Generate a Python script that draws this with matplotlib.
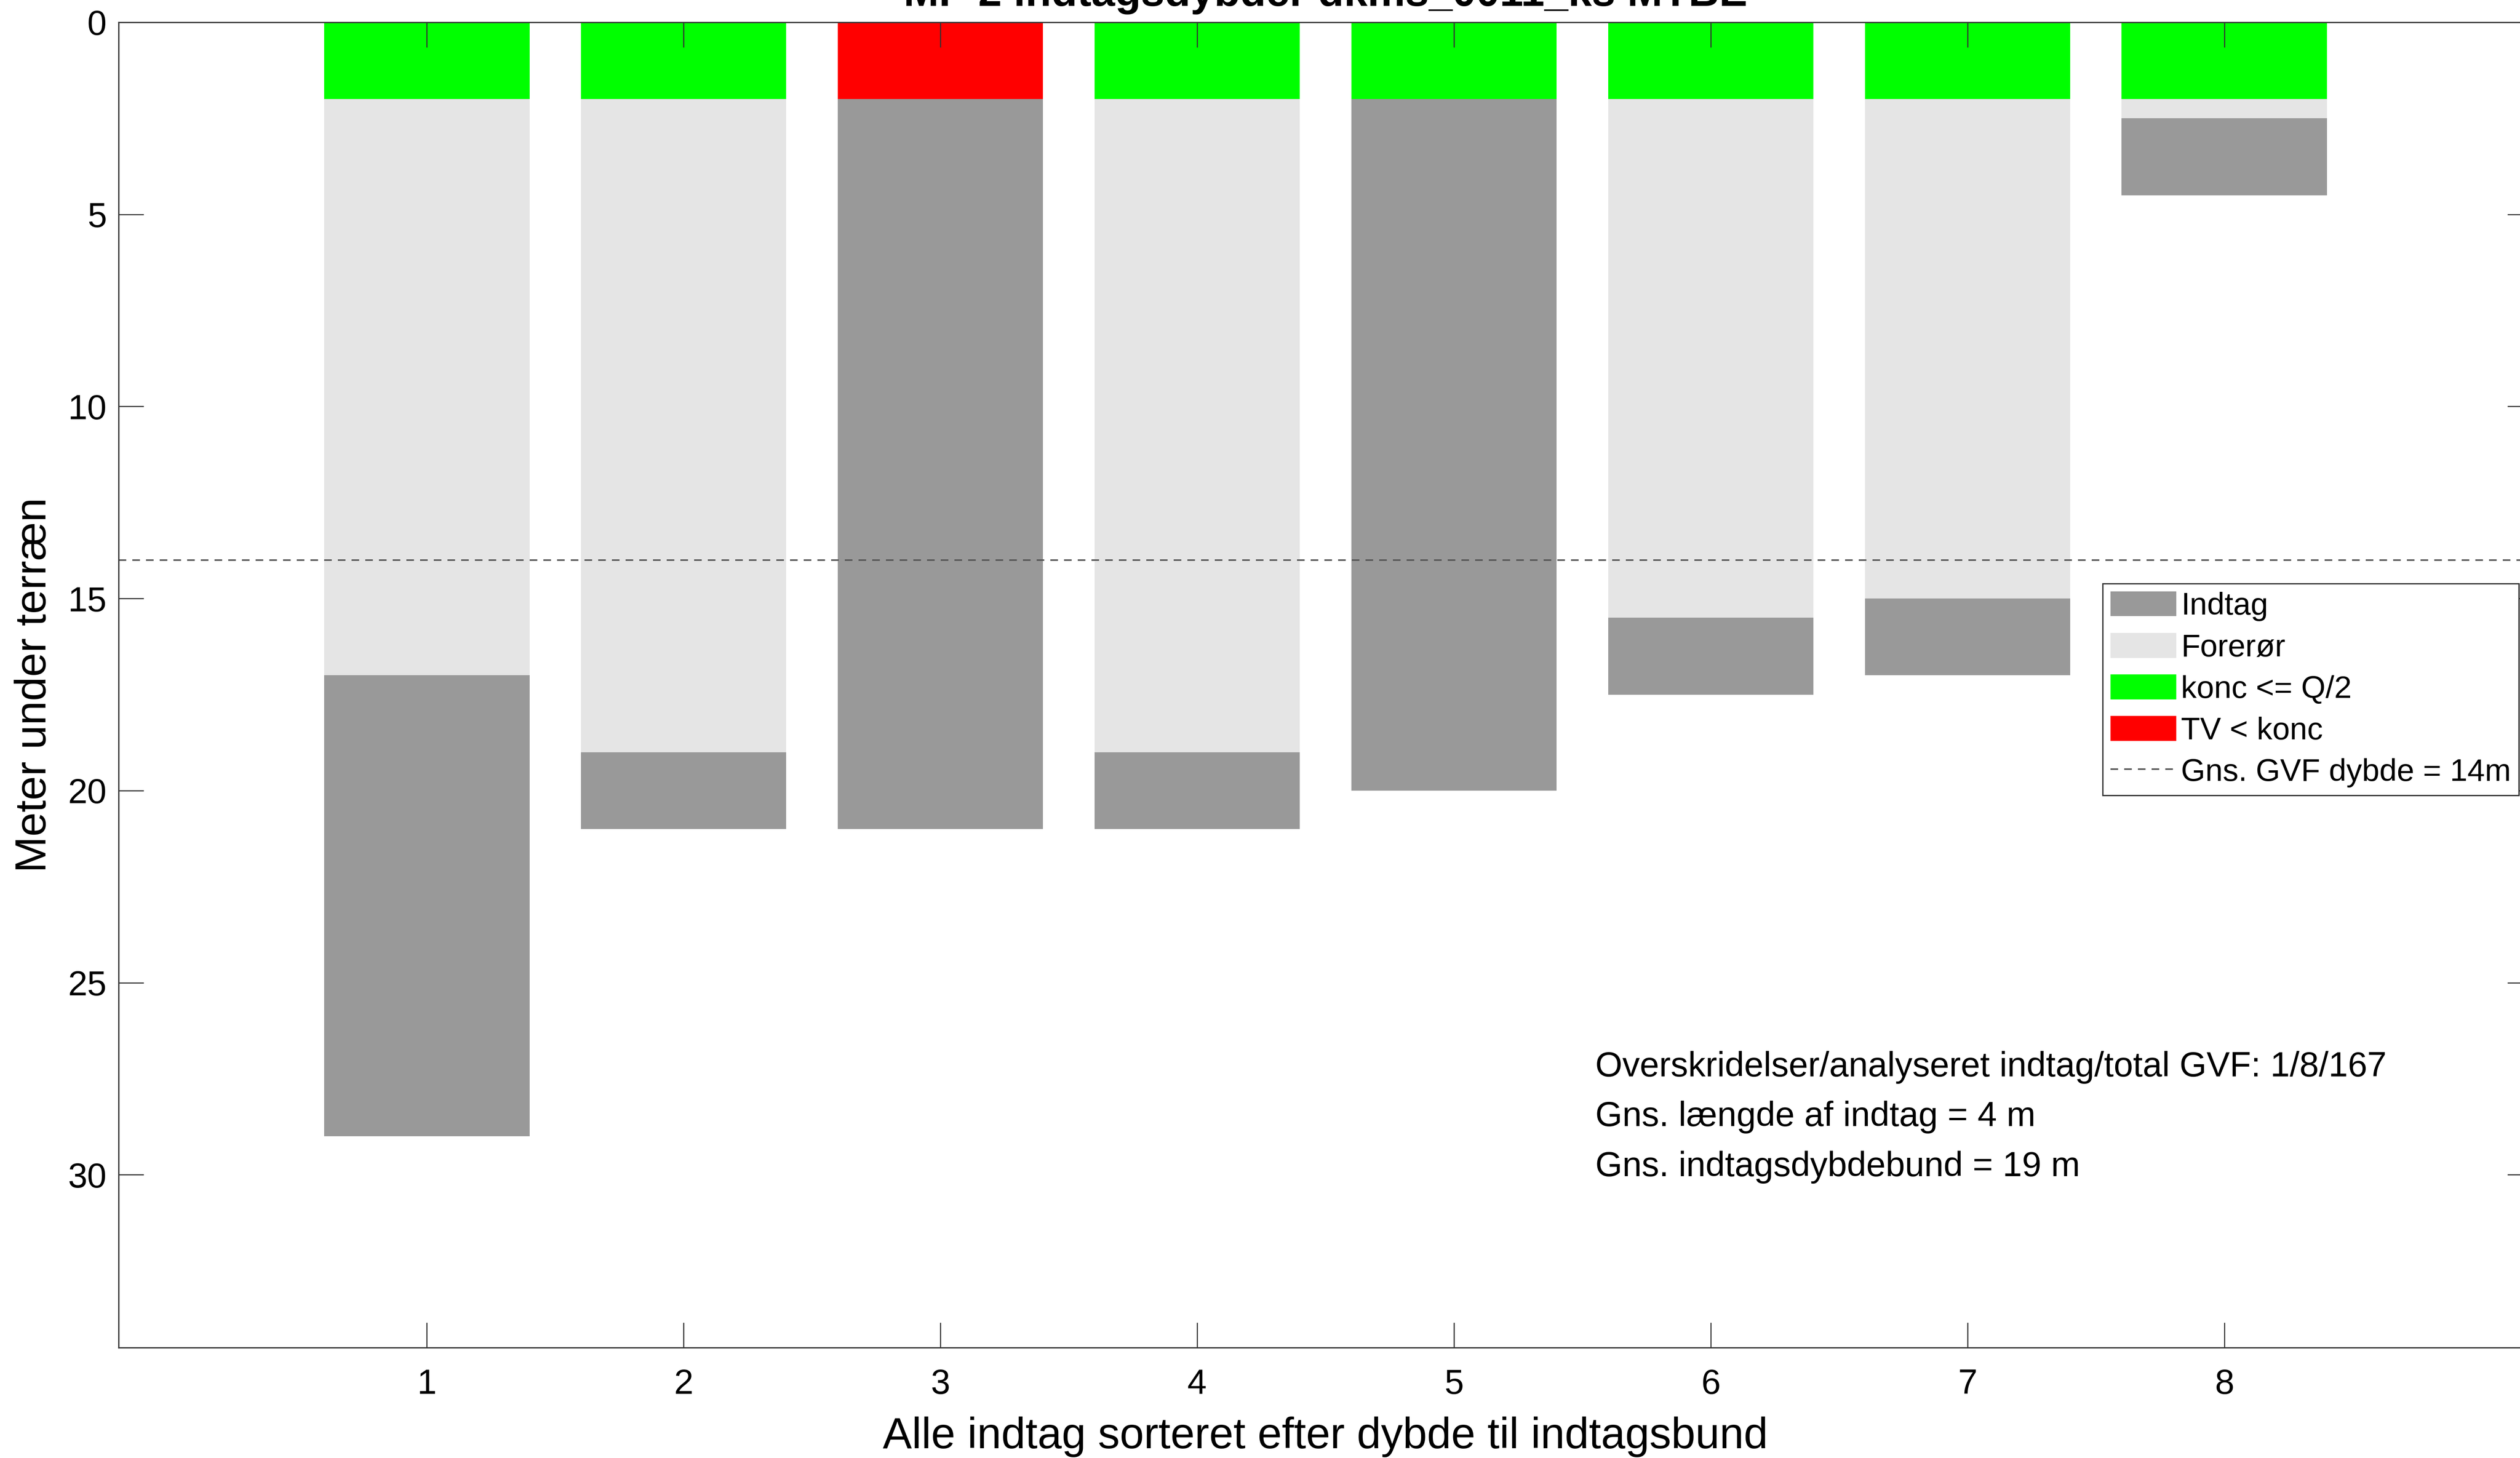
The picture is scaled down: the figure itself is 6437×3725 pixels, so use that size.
import matplotlib
matplotlib.use("Agg")
import matplotlib.pyplot as plt
from matplotlib.patches import Patch
from matplotlib.lines import Line2D

plt.rcParams["font.family"] = ["Liberation Sans", "DejaVu Sans"]

# data
indtag_nr = [1, 2, 3, 4, 5, 6, 7, 8]
indtag_top = [17, 19, 2, 19, 2, 15.5, 15, 2.5]
indtag_bund = [29, 21, 21, 21, 20, 17.5, 17, 4.5]
status = ["ok", "ok", "over", "ok", "ok", "ok", "ok", "ok"]
status_dybde = 2
gvf_dybde = 14
tekst_linjer = [
    "Overskridelser/analyseret indtag/total GVF: 1/8/167",
    "Gns. længde af indtag = 4 m",
    "Gns. indtagsdybdebund = 19 m",
]
tekst_y = [27.2, 28.5, 29.8]

titel = "MP 2 indtagsdybder dkms_0011_ks MTBE"

farve_indtag = "#999999"
farve_forer = "#e5e5e5"
farve_ok = "#00ff00"
farve_over = "#ff0000"

W, H, DPI = 6437, 3725, 400
fig = plt.figure(figsize=(W / DPI, H / DPI), dpi=DPI)
top_px, bund_px = 57, 3443
ax = fig.add_axes([303 / W, 1 - bund_px / H, (6469 - 303) / W, (bund_px - top_px) / H])

bredde = 0.8
forer_hoejde = [t - status_dybde for t in indtag_top]
indtag_hoejde = [b - t for t, b in zip(indtag_top, indtag_bund)]
status_farver = [farve_over if s == "over" else farve_ok for s in status]

ax.bar(indtag_nr, [status_dybde] * len(indtag_nr), bottom=0, width=bredde,
       color=status_farver, linewidth=0)
ax.bar(indtag_nr, forer_hoejde, bottom=status_dybde, width=bredde,
       color=farve_forer, linewidth=0)
ax.bar(indtag_nr, indtag_hoejde, bottom=indtag_top, width=bredde,
       color=farve_indtag, linewidth=0)

ax.axhline(gvf_dybde, color="#555555", linewidth=0.7, linestyle=(0, (5, 4)))

for tekst, y in zip(tekst_linjer, tekst_y):
    ax.text(5.55, y, tekst, fontsize=16, va="center", ha="left")

ax.set_xlim(-0.2, 9.2)
ax.set_ylim(34.5, 0)
ax.set_xticks(indtag_nr)
ax.set_yticks([0, 5, 10, 15, 20, 25, 30])
ax.tick_params(direction="in", length=11.5, width=0.5, labelsize=16,
               top=True, right=True, color="#333333")
ax.tick_params(axis="x", pad=9.5)
ax.tick_params(axis="y", pad=5.5)
for s in ax.spines.values():
    s.set_linewidth(0.6)
    s.set_color("#333333")

ax.set_xlabel("Alle indtag sorteret efter dybde til indtagsbund", fontsize=20, labelpad=7)
ax.set_ylabel("Meter under terræn", fontsize=20, labelpad=6)

fig.text(3386 / W, 1 - 15 / H, titel, fontsize=19.5, fontweight="bold",
         ha="center", va="baseline")

handles = [
    Patch(facecolor=farve_indtag, edgecolor="none", label="Indtag"),
    Patch(facecolor=farve_forer, edgecolor="none", label="Forerør"),
    Patch(facecolor=farve_ok, edgecolor="none", label="konc <= Q/2"),
    Patch(facecolor=farve_over, edgecolor="none", label="TV < konc"),
    Line2D([], [], color="#555555", linewidth=0.7, linestyle=(0, (5, 4)),
           label="Gns. GVF dybde = %dm" % gvf_dybde),
]
leg = ax.legend(handles=handles, loc="upper left", bbox_to_anchor=(0.822, 0.5766),
                borderaxespad=0, fontsize=14.4, fancybox=False, framealpha=1,
                edgecolor="#333333", handlelength=2.1, handleheight=0.85,
                handletextpad=0.15, labelspacing=0.37, borderpad=0.25)
leg.get_frame().set_linewidth(0.6)

fig.savefig("out.png", dpi=DPI)
